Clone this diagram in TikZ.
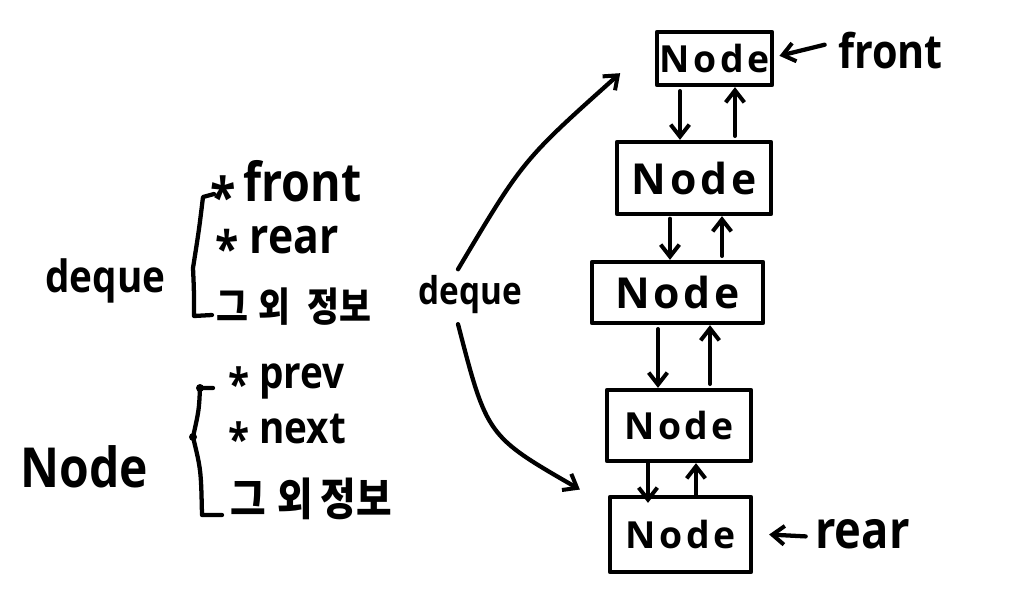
\documentclass[tikz,border=0pt]{standalone}
\usepackage{fontspec}
\setmainfont{Open Sans}
\newfontfamily\kr{Noto Sans CJK KR}
\usetikzlibrary{arrows.meta}
\newcommand{\tl}[1]{\scalebox{1}[1.15]{#1}}
\newcommand{\st}{\smash{\raisebox{-.28em}{*}}}
\begin{document}
\begin{tikzpicture}[x=0.75pt,y=-0.75pt,
  ink/.style={line width=3.2pt,line cap=round,line join=round},
  arr/.style={ink,-{Straight Barb[length=9pt,width=14pt,line width=3pt]}},
  nbox/.style={draw,ink,inner sep=0pt,font=\bfseries\fontsize{28}{28}\selectfont\addfontfeature{LetterSpace=9}},
  txt/.style={anchor=base west,inner sep=0pt}]
\useasboundingbox (0,0) rectangle (1022,601);
% left labels
\node[txt,font=\bfseries\fontsize{29}{29}\selectfont] (dql) at (45,292) {\tl{deque}};
\node[txt,font=\bfseries\fontsize{35}{35}\selectfont] (fr) at (210,201) {\tl{\st\,front}};
\node[txt,font=\bfseries\fontsize{32}{32}\selectfont] (re) at (215,253) {\tl{\st\ rear}};
\node[txt,font=\kr\bfseries\fontsize{26}{26}\selectfont] (oi1) at (216,321) {\tl{그\hspace{.3em}외\hspace{.5em}정보}};
\node[txt,font=\bfseries\fontsize{36}{36}\selectfont] (ndl) at (20,487) {\tl{Node}};
\node[txt,font=\bfseries\fontsize{29}{29}\selectfont] (pv) at (228,388) {\tl{\st\ prev}};
\node[txt,font=\bfseries\fontsize{29}{29}\selectfont] (nx) at (228,443) {\tl{\st\ next}};
\node[txt,font=\kr\bfseries\fontsize{29}{29}\selectfont] (oi2) at (230,515) {\tl{그\hspace{.3em}외\hspace{.2em}정보}};
% brackets
\draw[ink] (214,194) -- (203,197) .. controls (199,230) .. (193,268)
  .. controls (194,290) .. (194,316) -- (212,315);
\draw[ink] (213,388) -- (200,388) .. controls (199,410) .. (193,437)
  .. controls (201,470) .. (202,515) -- (222,515);
\fill (200,388) circle (3pt);
\fill (193,437) circle (3pt);
% middle deque
\node[txt,font=\bfseries\fontsize{25}{25}\selectfont] (dq) at (418,304) {\tl{deque}};
% node boxes
\node[nbox,minimum width=86.25pt,minimum height=39.75pt] (n1) at (714.5,58.5) {Node};
\node[nbox,minimum width=115.5pt,minimum height=54pt] (n2) at (694,178) {\fontsize{32}{32}\selectfont Node};
\node[nbox,minimum width=128.25pt,minimum height=45.75pt] (n3) at (677.5,292.5) {\fontsize{32}{32}\selectfont Node};
\node[nbox,minimum width=108pt,minimum height=53.25pt] (n4) at (679,425.5) {Node};
\node[nbox,minimum width=105.75pt,minimum height=56.25pt] (n5) at (680.5,534.5) {Node};
% front / rear
\node[txt,font=\bfseries\fontsize{31}{31}\selectfont] (ft) at (838,68) {\tl{front}};
\node[txt,font=\bfseries\fontsize{34}{34}\selectfont] (rr) at (815,548) {\tl{rear}};
\draw[arr] ([xshift=-10pt,yshift=4pt]ft.west) -- ([xshift=4pt,yshift=2pt]n1.east);
\draw[arr] ([xshift=-7pt,yshift=-2pt]rr.west) -- ([xshift=12pt]n5.east);
% links
\draw[arr,shorten <=3pt] (n1.south -| 680,0) -- (n2.north -| 680,0);
\draw[arr,shorten <=3pt] (n2.north -| 735,0) -- (n1.south -| 735,0);
\draw[arr,shorten <=2pt] (n2.south -| 670,0) -- (n3.north -| 670,0);
\draw[arr,shorten <=3pt] (n3.north -| 722,0) -- (n2.south -| 722,0);
\draw[arr,shorten <=3pt] (n3.south -| 658,0) -- (n4.north -| 658,0);
\draw[arr,shorten <=3pt] (n4.north -| 710,0) -- (n3.south -| 710,0);
\draw[arr] (n4.south -| 648,0) -- ([yshift=-6pt]n5.north -| 648,0);
\draw[arr] (n5.north -| 696,0) -- (n4.south -| 696,0);
% curved arrows
\draw[arr] ([shift={(-9pt,4pt)}]dq.north) .. controls (523,160) .. ([shift={(-26pt,-11pt)}]n1.west);
\draw[arr] ([shift={(-9pt,-8pt)}]dq.south) .. controls (487,436) .. ([shift={(-21pt,4pt)}]n5.north west);
\end{tikzpicture}
\end{document}
